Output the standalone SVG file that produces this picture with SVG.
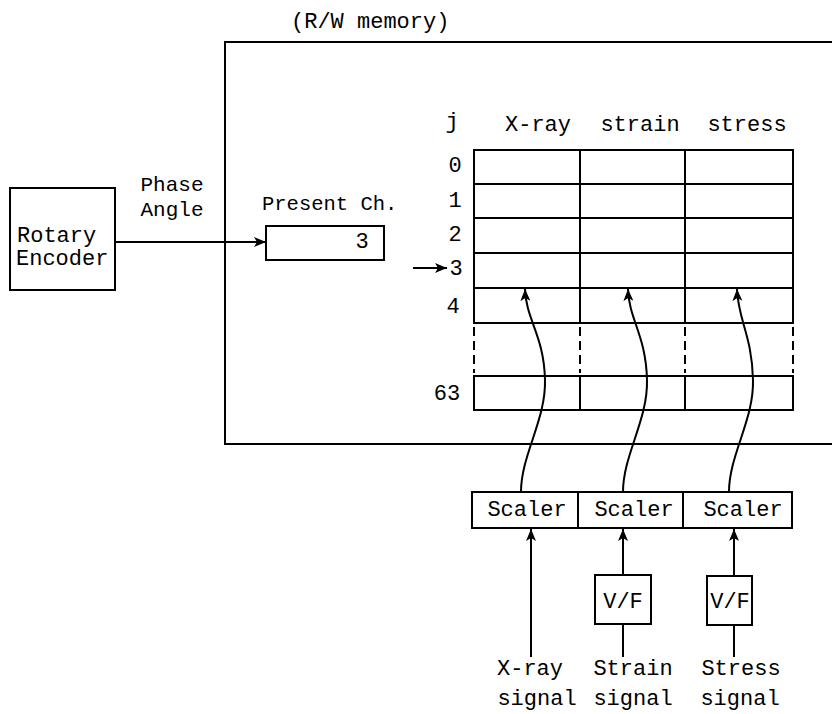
<svg xmlns="http://www.w3.org/2000/svg" width="832" height="714" viewBox="0 0 832 714">
<style>
  .box{fill:none;stroke:#000;stroke-width:2}
  .ln{fill:none;stroke:#000;stroke-width:2}
  .dash{fill:none;stroke:#000;stroke-width:2;stroke-dasharray:9 5}
  text{font-family:"Liberation Mono","Courier New",monospace;font-size:22px;fill:#000}
  .m{text-anchor:middle}
</style>
<defs>
  <marker id="ah" markerUnits="userSpaceOnUse" markerWidth="14" markerHeight="12" refX="12" refY="6" orient="auto">
    <path d="M0,1 L12,6 L0,11 L3,6 Z" fill="#000"/>
  </marker>
</defs>
<rect width="832" height="714" fill="#fff"/>

<g id="memory">
  <text x="291" y="28">(R/W memory)</text>
  <path class="ln" d="M840,42 H225 V444 H840"/>
</g>

<g id="rotary-encoder">
  <rect class="box" x="10" y="188" width="105" height="102"/>
  <text x="17" y="242">Rotary</text>
  <text x="16" y="265">Encoder</text>
</g>

<g id="phase-label">
  <text class="m" x="172" y="191" style="font-size:21px">Phase</text>
  <text class="m" x="172" y="216" style="font-size:21px">Angle</text>
</g>

<g id="present-ch">
  <text x="262" y="210" style="font-size:20.5px">Present Ch.</text>
  <rect class="box" x="266" y="226" width="118" height="34"/>
  <text class="m" x="362" y="248">3</text>
</g>

<g id="table">
  <text class="m" x="452" y="128">j</text>
  <text class="m" x="538" y="131">X-ray</text>
  <text class="m" x="640" y="131">strain</text>
  <text class="m" x="747" y="131">stress</text>
  <rect class="box" x="474" y="150" width="319" height="173"/>
  <path class="ln" d="M474,184 H793 M474,218 H793 M474,253 H793 M474,288 H793 M580,150 V323 M685,150 V323"/>
  <path class="dash" d="M474,327 V373 M580,327 V373 M685,327 V373 M793,327 V373"/>
  <rect class="box" x="474" y="376" width="319" height="34"/>
  <path class="ln" d="M580,376 V410 M685,376 V410"/>
  <text class="m" x="455" y="172">0</text>
  <text class="m" x="455" y="207">1</text>
  <text class="m" x="455" y="241">2</text>
  <text class="m" x="456" y="275">3</text>
  <text class="m" x="453" y="313">4</text>
  <text class="m" x="447" y="400">63</text>
</g>

<g id="scalers">
  <rect class="box" x="472" y="492" width="320" height="36"/>
  <path class="ln" d="M578,492 V528 M683,492 V528"/>
  <text class="m" x="527" y="516">Scaler</text>
  <text class="m" x="634" y="516">Scaler</text>
  <text class="m" x="743" y="516">Scaler</text>
</g>

<g id="vf-strain">
  <rect class="box" x="595" y="575" width="56" height="49"/>
  <text class="m" x="623" y="608">V/F</text>
</g>
<g id="vf-stress">
  <rect class="box" x="707" y="576" width="45" height="49"/>
  <text class="m" x="730" y="608">V/F</text>
</g>

<g id="signal-labels">
  <text class="m" x="530" y="675">X-ray</text>
  <text class="m" x="633" y="675">Strain</text>
  <text class="m" x="741" y="675">Stress</text>
  <text class="m" x="537" y="705">signal</text>
  <text class="m" x="633" y="705">signal</text>
  <text class="m" x="740" y="705">signal</text>
</g>

<g id="connectors">
  <path class="ln" d="M115,242 H266" marker-end="url(#ah)"/>
  <path class="ln" d="M413,268 H447" marker-end="url(#ah)"/>
  <path class="ln" d="M521,492 C521,455 546,420 545,380 C544,335 526,320 525,289" marker-end="url(#ah)"/>
  <path class="ln" d="M623,492 C623,455 648,420 647,380 C646,335 629,320 628,289" marker-end="url(#ah)"/>
  <path class="ln" d="M729,492 C729,455 754,420 753,380 C752,335 738,320 737,289" marker-end="url(#ah)"/>
  <path class="ln" d="M531,657 V529" marker-end="url(#ah)"/>
  <path class="ln" d="M623,575 V529" marker-end="url(#ah)"/>
  <path class="ln" d="M623,624 V657"/>
  <path class="ln" d="M734,576 V529" marker-end="url(#ah)"/>
  <path class="ln" d="M734,625 V657"/>
</g>
</svg>
